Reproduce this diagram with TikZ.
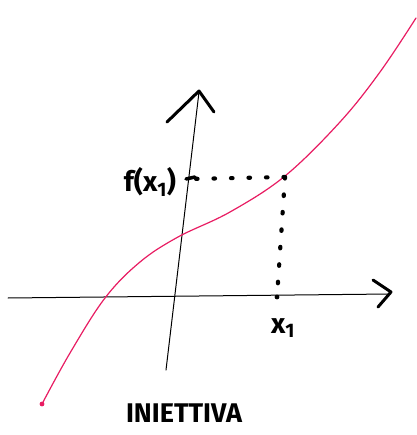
\documentclass[tikz,border=0pt]{standalone}
\usepackage{fontspec}
\setmainfont{Fira Sans}
\begin{document}
\begin{tikzpicture}[x=1pt,y=-1pt,
  axis/.style={line width=1pt,line cap=round,line join=round},
  arrowarm/.style={line width=3pt,line cap=round,line join=round},
  curve/.style={draw={rgb,255:red,232;green,28;blue,98},line width=1.2pt,line cap=round},
  dotline/.style={line width=4.2pt,line cap=round,dash pattern=on 1.5pt off 16pt},
  lab/.style={font=\bfseries\fontsize{28}{30}\selectfont,inner sep=0pt}]
\useasboundingbox (0,0) rectangle (416,435);
% axes
\coordinate (xs) at (8,298);
\coordinate (xe) at (390,294);
\coordinate (ys) at (166,370);
\coordinate (ye) at (199,92);
\draw[axis] (xs) -- (xe);
\draw[arrowarm] (373,280) -- (391,292) -- (378,307);
\draw[axis] (ys) -- (ye);
\draw[arrowarm] (167,122) -- (199,91) -- (214,112);
% curve
\coordinate (c0) at (42,404);
\draw[curve] plot[smooth,tension=0.6] coordinates {(42,404) (70,353) (105,298) (140,262) (178,237) (230,212) (285,176) (340,122) (380,72) (416,18)};
\fill[fill={rgb,255:red,232;green,28;blue,98}] (c0) circle (2.4pt);
% dotted guides
\coordinate (p) at (285,177);
\coordinate (fy) at (190,179);
\coordinate (fx) at (277,297);
\draw[dotline] (p) -- (fy);
\draw[dotline] (p) -- (fx);
\draw[line width=3.5pt,line cap=round] (186,179) -- (195,177);
\fill (277,297) circle (2.4pt);
% labels
\node[lab] (fl) at (150,182) {f(x\textsubscript{1})};
\node[lab] (xl) at (283,328) {x\textsubscript{1}};
\node[lab,font=\bfseries\fontsize{27}{29}\selectfont] (inj) at (184,413) {INIETTIVA};
\end{tikzpicture}
\end{document}
